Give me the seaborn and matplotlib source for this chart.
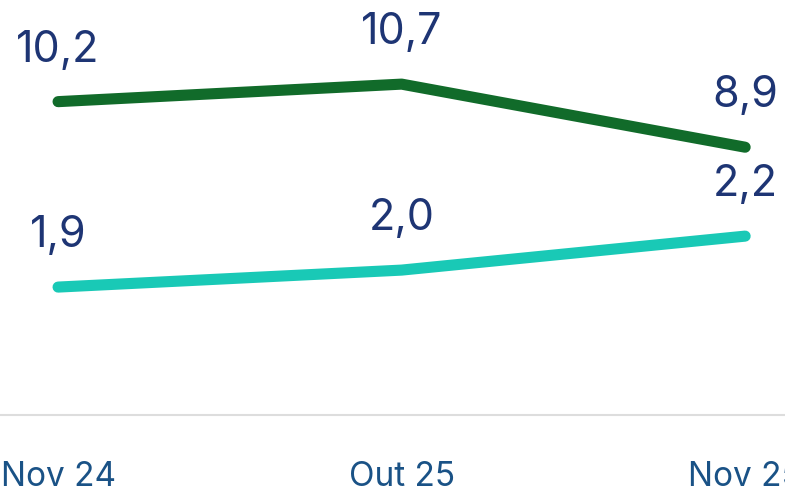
import matplotlib
matplotlib.use("Agg")
import matplotlib.pyplot as plt
import seaborn as sns
import pandas as pd

months = ["Nov 24", "Out 25", "Nov 25"]
green_values = [10.2, 10.7, 8.9]
teal_values = [1.9, 2.0, 2.2]

GREEN = "#116b2a"
TEAL = "#19c9b6"
LABEL_COLOR = "#1e3574"
TICK_COLOR = "#1a5286"

sns.set_theme(style="white")
plt.rcParams["font.family"] = ["Inter", "DejaVu Sans"]

df = pd.DataFrame({"x": range(len(months)), "green": green_values, "teal": teal_values})

fig = plt.figure(figsize=(7.85, 4.92), dpi=100)
ax = fig.add_axes([0, 77 / 492, 1, 415 / 492])
ax2 = ax.twinx()

sns.lineplot(data=df, x="x", y="green", ax=ax, color=GREEN, linewidth=8,
             solid_capstyle="round")
sns.lineplot(data=df, x="x", y="teal", ax=ax2, color=TEAL, linewidth=8,
             solid_capstyle="round")

ax.set_ylim(1.26, 13.1)
ax2.set_ylim(1.147, 3.59)
ax.set_xlim(-0.169, 2.116)

for a, vals in ((ax, green_values), (ax2, teal_values)):
    for i, v in enumerate(vals):
        a.annotate(f"{v:.1f}".replace(".", ","), (i, v), xytext=(0, 37),
                   textcoords="offset points", ha="center", va="center",
                   fontsize=31, color=LABEL_COLOR)

for a in (ax, ax2):
    for s in a.spines.values():
        s.set_visible(False)
    a.set_yticks([])
    a.set_ylabel("")
    a.set_xlabel("")

ax.spines["bottom"].set_visible(True)
ax.spines["bottom"].set_color("#dddddd")
ax.spines["bottom"].set_linewidth(1.5)
ax.set_xticks(range(len(months)))
ax.set_xticklabels(months, fontsize=24, color=TICK_COLOR)
ax.tick_params(axis="x", length=0, pad=33)
ax2.tick_params(axis="x", length=0)

plt.savefig("out.png", dpi=100)
plt.close()
